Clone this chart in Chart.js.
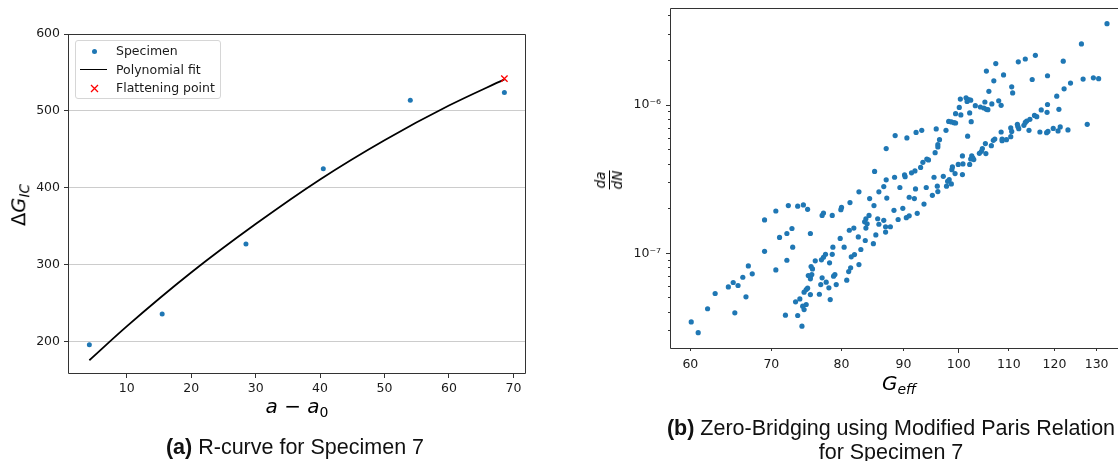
<!DOCTYPE html>
<html><head><meta charset="utf-8">
<script src="https://cdn.jsdelivr.net/npm/chart.js@4/dist/chart.umd.min.js"></script>
<style>
html,body{margin:0;padding:0;background:#fff;}
body{width:1118px;height:461px;overflow:hidden;position:relative;}
.box{position:absolute;}
.math{position:absolute;font-family:'DejaVu Sans';color:#000;white-space:nowrap;line-height:1;transform:translate(-50%,-50%);}
.rot{transform:translate(-50%,-50%) rotate(-90deg);}
.it{font-style:italic;}
.sb{font-size:0.7em;position:relative;top:0.28em;}
.cap{position:absolute;font-family:'Liberation Sans',Arial,sans-serif;color:#111;font-size:21.5px;white-space:nowrap;text-align:center;line-height:24px;transform:translate(-50%,-50%);}
#legend{position:absolute;left:75px;top:40px;width:146px;height:59px;border:1px solid #d6d6d6;border-radius:3px;background:rgba(255,255,255,0.85);box-sizing:border-box;font-family:'DejaVu Sans';font-size:12.5px;color:#1a1a1a;}
.lrow{position:absolute;left:0;height:18px;line-height:18px;width:146px;}
.lsym{position:absolute;left:4px;width:28px;height:18px;}
.ltxt{position:absolute;left:40px;top:0;}
.frac{display:inline-flex;flex-direction:column;align-items:center;font-family:'DejaVu Sans';font-style:italic;font-size:13.5px;line-height:1;}
.frac .num{border-bottom:1.2px solid #000;padding:0 1px 1px 1px;}
.frac .den{padding-top:1px;}
</style>
</head><body>
<div class="box" style="left:0;top:0;width:560px;height:461px;"><canvas id="c1" width="560" height="461"></canvas></div>
<div class="box" style="left:580px;top:0;width:560px;height:461px;"><canvas id="c2" width="560" height="461"></canvas></div>

<div id="legend">
  <div class="lrow" style="top:1px;"><div class="lsym"><span style="position:absolute;left:12px;top:7px;width:5px;height:5px;border-radius:50%;background:#1f77b4;"></span></div><span class="ltxt">Specimen</span></div>
  <div class="lrow" style="top:19.5px;"><div class="lsym"><span style="position:absolute;left:0px;top:8px;width:27px;height:1.8px;background:#000;"></span></div><span class="ltxt">Polynomial fit</span></div>
  <div class="lrow" style="top:38px;"><div class="lsym"><svg style="position:absolute;left:10px;top:5px;" width="9" height="9"><path d="M1 1 L8 8 M8 1 L1 8" stroke="red" stroke-width="1.3" fill="none"/></svg></div><span class="ltxt">Flattening point</span></div>
</div>

<div class="math rot" style="left:19px;top:205px;font-size:19.5px;">&Delta;<span class="it">G</span><span class="sb it">IC</span></div>
<div class="math" style="left:297px;top:406px;font-size:20px;"><span class="it">a</span> &minus; <span class="it">a</span><span class="sb">0</span></div>
<div class="cap" style="left:295px;top:447px;"><b>(a)</b> R-curve for Specimen 7</div>

<div class="math rot" style="left:608px;top:180px;"><span class="frac"><span class="num">da</span><span class="den">dN</span></span></div>
<div class="math" style="left:899px;top:383px;font-size:20px;"><span class="it">G</span><span class="sb it">eff</span></div>
<div class="cap" style="left:891px;top:440px;"><b>(b)</b> Zero-Bridging using Modified Paris Relation<br>for Specimen 7</div>

<script>
// ---------- (a) R-curve data ----------
const specimenX = [4.2, 15.5, 28.5, 40.5, 54.0, 68.6];
const specimenY = [196, 236, 327, 425, 514, 524];
const fitX = [4.2, 10, 20, 30, 40, 50, 60, 68.6];
const fitY = [176, 220, 290, 353, 411, 462, 507, 541];
const flatX = [68.6];
const flatY = [542];
const leftXTicks = [10, 20, 30, 40, 50, 60, 70];
const leftYTicks = [200, 300, 400, 500, 600];

// ---------- (b) Paris relation data ----------
const gEff = [
60.1,60.9,62.0,62.9,64.5,65.1,65.7,65.3,66.3,66.7,67.0,67.5,69.1,69.1,70.6,70.6,71.1,72.1,72.3,72.1,
72.8,72.9,73.6,71.9,73.6,74.2,73.3,73.9,
74.4,75.0,75.4,77.1,77.3,78.6,79.9,80.0,81.3,84.4,85.1,82.7,85.9,86.7,87.2,89.4,88.4,89.1,88.6,87.1,
85.2,87.1,88.5,84.3,83.8,83.6,84.0,83.8,85.7,85.9,86.7,87.0,87.8,87.0,85.4,85.0,83.7,82.6,81.9,81.2,
83.0,82.0,81.5,82.7,81.4,81.1,80.8,79.8,80.4,78.7,78.6,77.6,77.3,77.0,76.1,78.2,75.5,75.7,75.1,75.4,
75.6,75.4,77.1,77.7,79.0,78.8,79.2,76.9,78.1,75.0,74.8,74.5,75.4,76.7,78.3,74.8,74.3,74.5,
107.3,105.4,108.9,106.9,105.9,100.3,101.4,101.9,101.6,102.3,105.1,106.5,107.9,108.4,103.2,104.2,104.9,105.4,105.7,100.1,
99.4,100.4,102.1,98.1,98.6,99.1,99.4,102.4,95.8,97.6,93.2,92.2,90.6,101.7,96.4,96.1,96.1,95.6,108.4,107.1,
106.8,108.6,108.6,109.5,105.2,106.4,104.6,104.4,104.0,105.3,100.7,102.5,102.7,102.3,102.9,102.1,100.8,99.9,98.8,98.7,
99.3,100.7,97.1,95.4,98.2,97.9,98.6,97.7,96.0,96.1,95.1,94.0,92.1,93.6,92.4,91.0,91.9,89.9,90.5,91.0,
90.2,90.3,91.4,92.0,93.0,93.4,94.1,94.4,
132.6,126.3,115.7,113.5,112.0,122.0,118.4,115.0,110.6,110.8,126.7,129.2,130.5,123.7,122.2,120.5,118.4,117.0,118.3,121.0,
115.5,116.0,114.5,113.8,113.5,113.2,111.8,111.9,112.1,110.4,110.6,110.4,114.3,116.7,118.2,118.5,119.7,120.8,121.3,123.1,
127.7
];
const dadN = [
3.44e-8,2.91e-8,4.22e-8,5.35e-8,5.93e-8,6.35e-8,6.06e-8,3.96e-8,6.89e-8,5.08e-8,8.22e-8,7.26e-8,1.68e-7,1.03e-7,1.93e-7,7.72e-8,1.28e-7,1.36e-7,2.10e-7,8.97e-8,
1.47e-7,1.10e-7,2.08e-7,3.82e-8,3.80e-8,3.22e-8,4.70e-8,4.92e-8,
2.12e-7,1.98e-7,1.36e-7,1.80e-7,1.87e-7,1.80e-7,1.97e-7,2.04e-7,2.20e-7,2.34e-7,2.10e-7,2.60e-7,2.60e-7,2.82e-7,2.36e-7,2.78e-7,1.95e-7,1.69e-7,6.23e-7,5.09e-7,
3.57e-7,3.13e-7,3.26e-7,1.80e-7,1.71e-7,1.63e-7,1.58e-7,1.48e-7,1.71e-7,1.57e-7,1.67e-7,1.51e-7,1.51e-7,1.39e-7,1.33e-7,1.16e-7,1.22e-7,1.29e-7,1.48e-7,1.43e-7,
1.06e-7,9.80e-8,9.46e-8,8.39e-8,7.97e-8,7.52e-8,6.58e-8,1.26e-7,1.10e-7,1.10e-7,9.84e-8,9.84e-8,9.40e-8,9.03e-8,8.89e-8,8.62e-8,8.13e-8,7.84e-8,7.08e-8,6.97e-8,
7.19e-8,6.72e-8,6.83e-8,6.38e-8,7.19e-8,7.00e-8,6.15e-8,6.15e-8,5.84e-8,5.81e-8,5.69e-8,5.46e-8,5.26e-8,5.29e-8,4.87e-8,4.51e-8,4.39e-8,4.17e-8,
1.91e-6,1.70e-6,1.60e-6,1.46e-6,1.24e-6,1.10e-6,1.12e-6,1.09e-6,1.06e-6,1.08e-6,1.05e-6,1.02e-6,1.07e-6,9.97e-7,9.92e-7,9.72e-7,9.57e-7,9.37e-7,9.32e-7,9.66e-7,
8.76e-7,8.59e-7,8.86e-7,7.77e-7,7.70e-7,7.62e-7,7.58e-7,7.74e-7,6.91e-7,6.76e-7,6.76e-7,6.55e-7,6.01e-7,6.17e-7,5.85e-7,5.41e-7,5.22e-7,4.78e-7,6.59e-7,5.91e-7,
5.79e-7,5.91e-7,5.76e-7,5.85e-7,5.50e-7,5.33e-7,5.09e-7,4.88e-7,4.73e-7,4.71e-7,4.54e-7,4.54e-7,4.40e-7,4.33e-7,4.29e-7,3.98e-7,4.01e-7,3.98e-7,3.83e-7,3.67e-7,
3.45e-7,3.40e-7,3.31e-7,3.26e-7,3.14e-7,3.06e-7,2.94e-7,2.84e-7,2.84e-7,2.61e-7,2.46e-7,2.78e-7,2.72e-7,2.15e-7,1.86e-7,2.39e-7,2.34e-7,2.01e-7,1.74e-7,1.79e-7,
3.38e-7,3.29e-7,3.49e-7,3.60e-7,3.80e-7,4.11e-7,4.33e-7,4.27e-7,
3.55e-6,2.59e-6,2.17e-6,2.05e-6,1.96e-6,1.98e-6,1.58e-6,1.49e-6,1.33e-6,1.21e-6,1.50e-6,1.53e-6,1.51e-6,1.41e-6,1.29e-6,1.15e-6,1.01e-6,9.28e-7,8.94e-7,9.37e-7,
8.53e-7,8.36e-7,8.02e-7,7.82e-7,7.65e-7,7.31e-7,7.42e-7,7.19e-7,6.94e-7,7.02e-7,6.65e-7,6.13e-7,6.76e-7,6.59e-7,6.52e-7,6.65e-7,6.97e-7,6.70e-7,7.13e-7,6.80e-7,
7.42e-7
];
const rightXTicks = [60, 70, 80, 90, 100, 110, 120, 130];
const rightXMajor = [100];
const rightYMajor = [1e-7, 1e-6];
const rightYMajorLabels = ['10\u207B\u2077', '10\u207B\u2076'];
const rightYMinor = [3e-8,4e-8,5e-8,6e-8,7e-8,8e-8,9e-8,2e-7,3e-7,4e-7,5e-7,6e-7,7e-7,8e-7,9e-7,2e-6,3e-6,4e-6];

Chart.defaults.font.family = 'DejaVu Sans';
Chart.defaults.font.size = 12.5;
Chart.defaults.color = '#1a1a1a';

const framePlugin = {
  id: 'frame',
  afterDatasetsDraw(chart) {
    const {ctx, chartArea: a} = chart;
    ctx.save();
    ctx.strokeStyle = '#333';
    ctx.lineWidth = 1;
    const l = Math.round(a.left) - 0.5, r = Math.round(a.right) + 0.5;
    const t = Math.round(a.top) + 0.5, b = Math.round(a.bottom) + 0.5;
    ctx.beginPath();
    ctx.moveTo(l, t); ctx.lineTo(r, t); ctx.lineTo(r, b); ctx.lineTo(l, b); ctx.closePath();
    ctx.stroke();
    ctx.restore();
  }
};

const tickFont = {family: 'DejaVu Sans', size: 12.5};
const noPad = s => { s.paddingTop = 0; s.paddingBottom = 0; s.paddingLeft = 0; s.paddingRight = 0; };

// ---------- chart (a) ----------
new Chart(document.getElementById('c1'), {
  type: 'scatter',
  data: {
    datasets: [
      { label: 'Specimen', data: specimenX.map((x, i) => ({x, y: specimenY[i]})),
        backgroundColor: '#1f77b4', borderWidth: 0, pointRadius: 2.5, order: 3 },
      { label: 'Polynomial fit', type: 'line', showLine: true,
        data: fitX.map((x, i) => ({x, y: fitY[i]})),
        borderColor: '#000', borderWidth: 1.8, pointRadius: 0, fill: false,
        cubicInterpolationMode: 'monotone', order: 2 },
      { label: 'Flattening point', data: flatX.map((x, i) => ({x, y: flatY[i]})),
        pointStyle: 'crossRot', pointRadius: 4.5, borderColor: '#ff0000', borderWidth: 1.3,
        backgroundColor: '#ff0000', order: 1 }
    ]
  },
  options: {
    responsive: false, animation: false, events: [],
    layout: {padding: {top: 34, right: 35, left: 0, bottom: 0}},
    plugins: {legend: {display: false}, tooltip: {enabled: false}},
    scales: {
      x: {
        type: 'linear', min: 1.04, max: 71.8, bounds: 'data',
        afterBuildTicks: s => { s.ticks = leftXTicks.map(v => ({value: v})); },
        afterFit: s => { s.height = 88; noPad(s); },
        grid: {drawOnChartArea: false, drawTicks: true, tickLength: 5, tickColor: '#333', tickWidth: 1},
        border: {display: false},
        ticks: {font: tickFont, color: '#1a1a1a', padding: 3, maxRotation: 0, autoSkip: false}
      },
      y: {
        type: 'linear', min: 159.4, max: 600, bounds: 'data',
        afterBuildTicks: s => { s.ticks = leftYTicks.map(v => ({value: v})); },
        afterFit: s => { s.width = 69; noPad(s); },
        grid: {color: '#cccccc', lineWidth: 1, drawTicks: true, tickLength: 5, tickColor: '#333', tickWidth: 1},
        border: {display: false},
        ticks: {font: tickFont, color: '#1a1a1a', padding: 4, autoSkip: false}
      }
    }
  },
  plugins: [framePlugin]
});

// ---------- chart (b) ----------
new Chart(document.getElementById('c2'), {
  type: 'scatter',
  data: {
    datasets: [
      { label: 'da/dN', data: gEff.map((g, i) => ({x: g, y: dadN[i]})),
        backgroundColor: '#1f77b4', borderWidth: 0, pointRadius: 2.6 }
    ]
  },
  options: {
    responsive: false, animation: false, events: [],
    layout: {padding: {top: 8, right: 10, left: 0, bottom: 0}},
    plugins: {legend: {display: false}, tooltip: {enabled: false}},
    scales: {
      x: {
        type: 'logarithmic', min: 57.83, max: 138.53, bounds: 'data',
        afterBuildTicks: s => { s.ticks = rightXTicks.map(v => ({value: v})); },
        afterFit: s => { s.height = 113; noPad(s); },
        grid: {drawOnChartArea: false, drawTicks: true, tickLength: 5, tickColor: '#333', tickWidth: 1,
          tickBorderDash: c => (c.tick && rightXMajor.includes(c.tick.value)) ? [] : [3, 10]},
        border: {display: false},
        ticks: {font: tickFont, color: '#1a1a1a', padding: 4, maxRotation: 0, autoSkip: false,
          callback: v => String(v)}
      },
      y: {
        type: 'logarithmic', min: 2.293e-8, max: 4.529e-6, bounds: 'data',
        afterBuildTicks: s => {
          s.ticks = rightYMinor.concat(rightYMajor).sort((a, b) => a - b).map(v => ({value: v}));
        },
        afterFit: s => { s.width = 91; noPad(s); },
        grid: {drawOnChartArea: false, drawTicks: true, tickLength: 5, tickColor: '#333', tickWidth: 1,
          tickBorderDash: c => (c.tick && rightYMajor.includes(c.tick.value)) ? [] : [0, 2, 3, 10]},
        border: {display: false},
        ticks: {font: tickFont, color: '#1a1a1a', padding: 5, autoSkip: false,
          callback: v => { const i = rightYMajor.indexOf(v); return i >= 0 ? rightYMajorLabels[i] : ''; }}
      }
    }
  },
  plugins: [framePlugin]
});
</script>
</body></html>
